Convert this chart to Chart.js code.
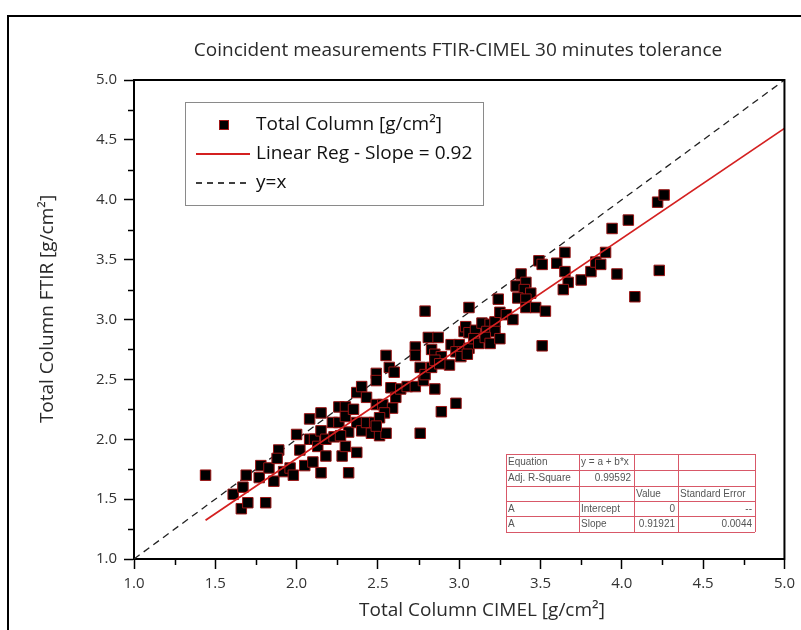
<!DOCTYPE html>
<html>
<head>
<meta charset="utf-8">
<script src="https://cdn.jsdelivr.net/npm/chart.js@4.4.0/dist/chart.umd.min.js"></script>
<style>
  html, body { margin: 0; padding: 0; background: #fff; }
  canvas { display: block; }
</style>
</head>
<body>
<canvas id="c" width="801" height="630"></canvas>
<script>
// coincident pairs
var cimel = [
  1.44, 1.61, 1.67, 1.69, 1.66, 1.70, 1.81, 1.77, 1.78, 1.83, 1.86, 1.89, 1.88, 1.92, 1.96, 1.98,
  2.00, 2.02, 2.05, 2.08, 2.10, 2.15, 2.08, 2.11, 2.15, 2.15, 2.13, 2.18, 2.18, 2.22, 2.26, 2.30,
  2.26, 2.30, 2.28, 2.32, 2.30, 2.32, 2.37, 2.35, 2.37, 2.40, 2.43, 2.37, 2.40, 2.43, 2.48, 2.49,
  2.49, 2.23, 2.27, 2.46, 2.51, 2.55, 2.49, 2.53, 2.59, 2.54, 2.51, 2.49, 2.55, 2.57, 2.60, 2.58,
  2.61, 2.64, 2.68, 2.73, 2.78, 2.76, 2.79, 2.83, 2.85, 2.73, 2.73, 2.81, 2.87, 2.79, 2.83, 2.85,
  2.89, 2.85, 2.94, 2.88, 2.95, 3.00, 2.98, 3.02, 3.06, 3.01, 3.05, 3.03, 3.04, 3.06, 3.10, 3.06,
  3.09, 3.12, 3.14, 3.19, 3.22, 3.17, 3.22, 3.16, 3.19, 3.25, 3.24, 3.25, 3.29, 3.33, 3.35, 3.38,
  3.41, 3.40, 3.44, 3.36, 3.41, 3.41, 3.47, 3.49, 3.51, 3.51, 3.53, 3.60, 3.65, 3.65, 3.67, 3.64,
  3.75, 3.81, 3.84, 3.87, 3.90, 3.94, 3.97, 4.04, 4.22, 4.26, 4.23, 4.08, 2.76, 2.89, 2.98
];
var ftir = [
  1.70, 1.54, 1.60, 1.70, 1.42, 1.47, 1.47, 1.68, 1.78, 1.76, 1.65, 1.91, 1.84, 1.73, 1.76, 1.70,
  2.04, 1.91, 1.78, 2.17, 1.81, 1.72, 2.00, 2.00, 2.22, 2.07, 1.94, 1.86, 2.00, 2.14, 2.27, 2.27,
  2.14, 2.19, 1.86, 1.72, 1.94, 2.06, 1.89, 2.25, 2.14, 2.07, 2.14, 2.39, 2.44, 2.35, 2.14, 2.55,
  2.49, 2.02, 2.03, 2.05, 2.03, 2.05, 2.29, 2.29, 2.26, 2.22, 2.18, 2.11, 2.70, 2.60, 2.56, 2.43,
  2.35, 2.42, 2.44, 2.44, 2.49, 2.60, 2.54, 2.60, 2.42, 2.77, 2.70, 2.85, 2.85, 3.07, 2.75, 2.71,
  2.69, 2.66, 2.62, 2.63, 2.79, 2.79, 2.73, 2.73, 2.76, 2.69, 2.71, 2.90, 2.94, 2.89, 2.91, 3.10,
  2.84, 2.80, 2.97, 2.96, 2.98, 2.90, 2.90, 2.85, 2.80, 2.84, 3.17, 3.06, 3.04, 3.00, 3.28, 3.38,
  3.31, 3.25, 3.22, 3.18, 3.17, 3.10, 3.10, 3.49, 3.46, 2.78, 3.07, 3.47, 3.56, 3.40, 3.31, 3.25,
  3.33, 3.40, 3.48, 3.46, 3.56, 3.76, 3.38, 3.83, 3.98, 4.04, 3.41, 3.19, 2.05, 2.23, 2.30
];

// fit line y = 0.91921 x, from first point to the axis end
var regX = [1.44, 5.0];
var regY = [1.324, 4.596];
// y = x
var idX = [1.0, 5.0];
var idY = [1.0, 5.0];

var minorTicks = [1.25, 1.75, 2.25, 2.75, 3.25, 3.75, 4.25, 4.75];

var legendLabels = ['Total Column [g/cm\u00b2]', 'Linear Reg - Slope = 0.92', 'y=x'];

var fitTable = [
  ['Equation', 'y = a + b*x', '', ''],
  ['Adj. R-Square', '0.99592', '', ''],
  ['', '', 'Value', 'Standard Error'],
  ['A', 'Intercept', '0', '--'],
  ['A', 'Slope', '0.91921', '0.0044']
];

function pairs(xs, ys) {
  var out = [];
  for (var i = 0; i < xs.length; i++) out.push({ x: xs[i], y: ys[i] });
  return out;
}

var decor = {
  id: 'decor',
  afterDraw: function (chart) {
    var ctx = chart.ctx;
    var a = chart.chartArea;
    var xs = chart.scales.x;
    var ys = chart.scales.y;
    ctx.save();

    // page frame
    ctx.strokeStyle = '#000';
    ctx.lineWidth = 2;
    ctx.beginPath();
    ctx.moveTo(8, 630);
    ctx.lineTo(8, 16);
    ctx.lineTo(801, 16);
    ctx.stroke();

    // top / right border of the plot
    ctx.beginPath();
    ctx.moveTo(a.left - 1, a.top);
    ctx.lineTo(a.right, a.top);
    ctx.lineTo(a.right, a.bottom + 1);
    ctx.stroke();

    // minor ticks
    ctx.lineWidth = 1.5;
    ctx.beginPath();
    minorTicks.forEach(function (v) {
      var px = Math.round(xs.getPixelForValue(v)) + 0.5;
      ctx.moveTo(px, a.bottom);
      ctx.lineTo(px, a.bottom + 6);
      var py = Math.round(ys.getPixelForValue(v)) + 0.5;
      ctx.moveTo(a.left, py);
      ctx.lineTo(a.left - 6, py);
    });
    ctx.stroke();

    // title
    ctx.fillStyle = '#2a2a2a';
    ctx.font = '19px "Open Sans"';
    ctx.textAlign = 'center';
    ctx.textBaseline = 'alphabetic';
    ctx.fillText('Coincident measurements FTIR-CIMEL 30 minutes tolerance', 458, 56);

    // axis titles
    ctx.font = '19px "Open Sans"';
    ctx.fillText('Total Column CIMEL [g/cm\u00b2]', 482, 616);
    ctx.save();
    ctx.translate(53, 309);
    ctx.rotate(-Math.PI / 2);
    ctx.fillText('Total Column FTIR [g/cm\u00b2]', 0, 0);
    ctx.restore();

    // legend
    ctx.strokeStyle = '#8a8a8a';
    ctx.lineWidth = 1;
    ctx.strokeRect(185.5, 102.5, 298, 103);
    ctx.fillStyle = '#000';
    ctx.fillRect(219, 120, 10, 10);
    ctx.strokeStyle = '#a01818';
    ctx.strokeRect(219.5, 120.5, 9, 9);
    ctx.strokeStyle = '#d42020';
    ctx.lineWidth = 1.8;
    ctx.beginPath();
    ctx.moveTo(196, 154);
    ctx.lineTo(250, 154);
    ctx.stroke();
    ctx.strokeStyle = '#000';
    ctx.lineWidth = 1.3;
    ctx.setLineDash([6, 5]);
    ctx.beginPath();
    ctx.moveTo(196, 183);
    ctx.lineTo(250, 183);
    ctx.stroke();
    ctx.setLineDash([]);
    ctx.fillStyle = '#111';
    ctx.font = '19px "Open Sans"';
    ctx.textAlign = 'left';
    ctx.textBaseline = 'middle';
    legendLabels.forEach(function (t, i) {
      ctx.fillText(t, 256, 125 + i * 29);
    });

    // fit results table
    var colX = [506, 579, 634, 678, 755];
    var rowY = [454, 470, 486, 501, 516, 532];
    ctx.strokeStyle = '#d85868';
    ctx.lineWidth = 1;
    ctx.beginPath();
    colX.forEach(function (x) {
      ctx.moveTo(x + 0.5, rowY[0]);
      ctx.lineTo(x + 0.5, rowY[rowY.length - 1]);
    });
    rowY.forEach(function (y) {
      ctx.moveTo(colX[0], y + 0.5);
      ctx.lineTo(colX[colX.length - 1], y + 0.5);
    });
    ctx.stroke();
    ctx.fillStyle = '#555';
    ctx.font = '10px "Liberation Sans"';
    ctx.textBaseline = 'middle';
    fitTable.forEach(function (row, r) {
      var cy = (rowY[r] + rowY[r + 1]) / 2 + 0.5;
      row.forEach(function (cell, c) {
        if (!cell) return;
        var numeric = /^[0-9.\-]+$/.test(cell);
        if (numeric) {
          ctx.textAlign = 'right';
          ctx.fillText(cell, colX[c + 1] - 3, cy);
        } else {
          ctx.textAlign = 'left';
          ctx.fillText(cell, colX[c] + 2, cy);
        }
      });
    });

    ctx.restore();
  }
};

var tickFont = { family: 'Open Sans', size: 15 };

new Chart(document.getElementById('c').getContext('2d'), {
  type: 'scatter',
  data: {
    datasets: [
      {
        label: legendLabels[1],
        data: pairs(regX, regY),
        showLine: true,
        borderColor: '#d42020',
        borderWidth: 1.8,
        pointRadius: 0,
        order: 0
      },
      {
        label: legendLabels[0],
        data: pairs(cimel, ftir),
        pointStyle: 'rect',
        pointRadius: 7.4,
        backgroundColor: '#000',
        borderColor: '#9a1414',
        borderWidth: 1,
        order: 1
      },
      {
        label: legendLabels[2],
        data: pairs(idX, idY),
        showLine: true,
        borderColor: '#222',
        borderWidth: 1.3,
        borderDash: [7, 5],
        pointRadius: 0,
        order: 2
      }
    ]
  },
  options: {
    responsive: false,
    animation: false,
    events: [],
    layout: { padding: { top: 80, right: 14, left: 0, bottom: 0 } },
    plugins: {
      legend: { display: false },
      title: { display: false },
      tooltip: { enabled: false }
    },
    scales: {
      x: {
        type: 'linear',
        min: 1,
        max: 5,
        afterFit: function (s) { s.height = 71; },
        ticks: {
          stepSize: 0.5,
          padding: 6,
          color: '#333',
          font: tickFont,
          callback: function (v) { return v.toFixed(1); }
        },
        grid: { drawOnChartArea: false, drawTicks: true, tickLength: 10, tickWidth: 1.5, tickColor: '#000' },
        border: { display: true, color: '#000', width: 2 }
      },
      y: {
        type: 'linear',
        min: 1,
        max: 5,
        afterFit: function (s) { s.width = 134; },
        ticks: {
          stepSize: 0.5,
          padding: 7,
          color: '#333',
          font: tickFont,
          callback: function (v) { return v.toFixed(1); }
        },
        grid: { drawOnChartArea: false, drawTicks: true, tickLength: 10, tickWidth: 1.5, tickColor: '#000' },
        border: { display: true, color: '#000', width: 2 }
      }
    }
  },
  plugins: [decor]
});
</script>
</body>
</html>
